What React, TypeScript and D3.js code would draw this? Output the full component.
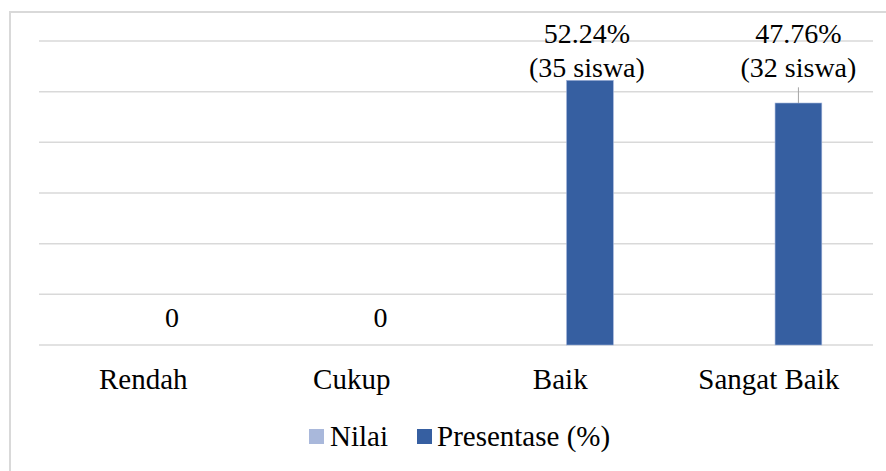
import React from "react";
import * as d3 from "d3";

const categories = ["Rendah", "Cukup", "Baik", "Sangat Baik"];
const seriesNames = ["Nilai", "Presentase (%)"];
const nilaiValues = [0, 0, 0, 0];
const presentaseValues = [0, 0, 52.24, 47.76];
const labelLines = [["0"], ["0"], ["52.24%", "(35 siswa)"], ["47.76%", "(32 siswa)"]];
const yTicks = [0, 10, 20, 30, 40, 50, 60];
const colors = ["#A9B8DB", "#365FA1"];

const W = 886;
const H = 471;
const plotLeft = 39;
const plotRight = 873;
const plotTop = 41;
const plotBottom = 345;

export default function App() {
  const x0 = d3.scaleBand<string>().domain(categories).range([plotLeft, plotRight]).padding(0);
  const x1 = d3
    .scaleBand<string>()
    .domain(seriesNames)
    .range([0, x0.bandwidth()])
    .paddingInner(0.27 / 1.27)
    .paddingOuter(1.095 / 1.27);
  const y = d3.scaleLinear().domain([0, 60]).range([plotBottom, plotTop]);
  const series = [nilaiValues, presentaseValues];
  const labelTopValue = d3.max(presentaseValues) as number;

  return (
    <svg width={W} height={H} className="chart" style={{ position: "absolute", left: 0, top: 0 }}>
      <style>{`.chart text { font-family: "Liberation Serif", monospace; fill: #000; }`}</style>
      <rect x={10} y={12} width={W + 20} height={H + 20} fill="#fff" stroke="#D9D9D9" strokeWidth={2} />
      {yTicks.map((t) => (
        <line key={t} x1={plotLeft} x2={plotRight} y1={y(t)} y2={y(t)} stroke="#D9D9D9" strokeWidth={1.5} />
      ))}
      {series.map((vals, si) =>
        vals.map((v, ci) =>
          v > 0 ? (
            <rect
              key={`${si}-${ci}`}
              x={(x0(categories[ci]) as number) + (x1(seriesNames[si]) as number)}
              y={y(v)}
              width={x1.bandwidth()}
              height={y(0) - y(v)}
              fill={colors[si]}
              stroke="#9FB1D8"
              strokeWidth={0.6}
            />
          ) : null
        )
      )}
      {presentaseValues.map((v, ci) => {
        const cx = (x0(categories[ci]) as number) + (x1(seriesNames[1]) as number) + x1.bandwidth() / 2;
        const lines = labelLines[ci];
        if (v === 0) {
          return (
            <text key={ci} x={cx - 1} y={y(0) - 18} textAnchor="middle" fontSize={28}>
              {lines[0]}
            </text>
          );
        }
        const base2 = y(labelTopValue) - 3;
        const base1 = base2 - 34;
        const lx = ci === 2 ? cx - 3 : cx;
        const gapBottom = base2 + 10;
        return (
          <g key={ci}>
            {y(v) - gapBottom > 8 ? (
              <line x1={cx} x2={cx} y1={gapBottom} y2={y(v)} stroke="#A6A6A6" strokeWidth={1} />
            ) : null}
            <text x={lx} y={base1} textAnchor="middle" fontSize={28}>
              {lines[0]}
            </text>
            <text x={lx} y={base2} textAnchor="middle" fontSize={28}>
              {lines[1]}
            </text>
          </g>
        );
      })}
      {categories.map((c) => (
        <text key={c} x={(x0(c) as number) + x0.bandwidth() / 2} y={389} textAnchor="middle" fontSize={29}>
          {c}
        </text>
      ))}
      <g>
        <rect x={309} y={429} width={15} height={15} fill={colors[0]} />
        <text x={330} y={446} fontSize={29}>
          {seriesNames[0]}
        </text>
        <rect x={417} y={429} width={15} height={15} fill={colors[1]} />
        <text x={437} y={446} fontSize={29}>
          {seriesNames[1]}
        </text>
      </g>
    </svg>
  );
}
